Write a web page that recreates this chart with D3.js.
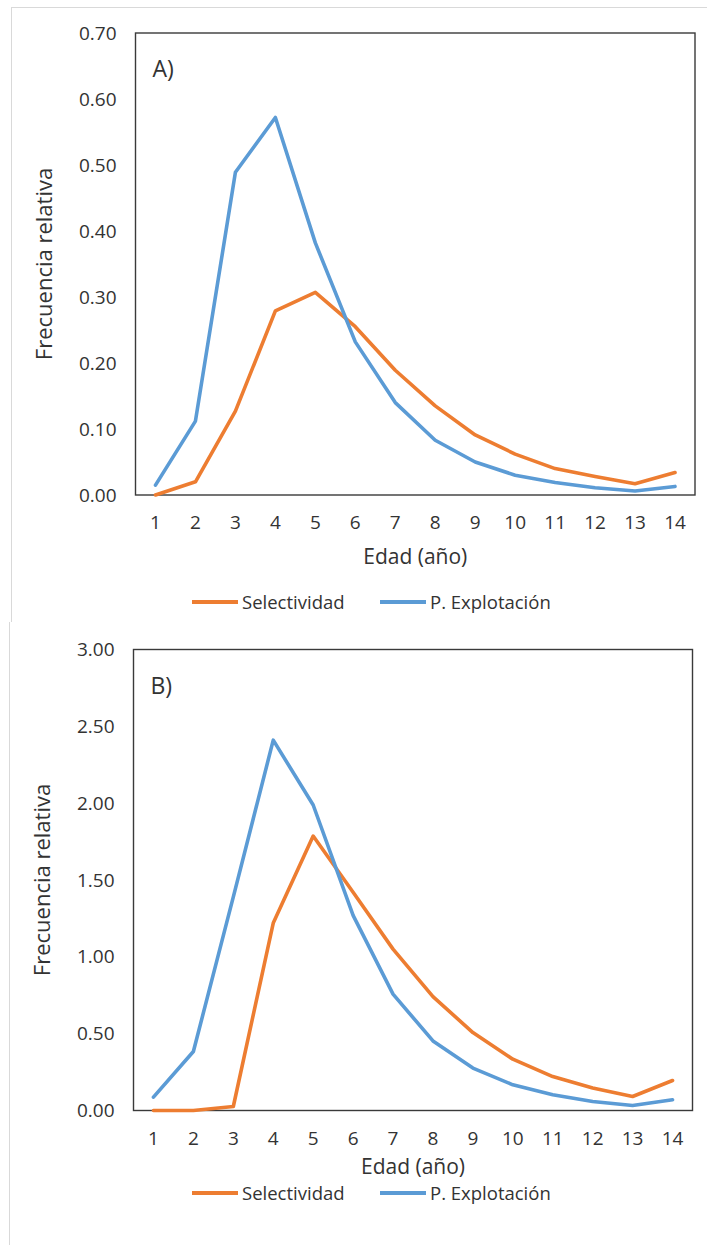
<!DOCTYPE html>
<html>
<head>
<meta charset="utf-8">
<script src="https://cdn.jsdelivr.net/npm/d3@7/dist/d3.min.js"></script>
<style>
  html, body { margin: 0; padding: 0; background: #fff; }
  svg { display: block; }
  text { font-family: "Open Sans", "DejaVu Sans", sans-serif; fill: #333; }
</style>
</head>
<body>
<svg id="chart" width="707" height="1245"></svg>
<script>
// ---- Data ----
const ages = ["1","2","3","4","5","6","7","8","9","10","11","12","13","14"];
const seriesNames = ["Selectividad", "P. Explotación"];
const seriesColors = ["#ED7D31", "#5B9BD5"];

// Panel A
const selA = [0.000, 0.020, 0.127, 0.279, 0.307, 0.255, 0.189, 0.135, 0.091, 0.062, 0.040, 0.028, 0.017, 0.034];
const expA = [0.015, 0.112, 0.489, 0.572, 0.382, 0.232, 0.140, 0.083, 0.050, 0.030, 0.019, 0.011, 0.006, 0.013];
const ticksA = [0, 0.1, 0.2, 0.3, 0.4, 0.5, 0.6, 0.7];

// Panel B
const selB = [0.000, 0.000, 0.026, 1.220, 1.786, 1.420, 1.050, 0.741, 0.507, 0.334, 0.221, 0.146, 0.091, 0.195];
const expB = [0.087, 0.384, 1.390, 2.410, 1.988, 1.270, 0.757, 0.453, 0.276, 0.167, 0.102, 0.059, 0.033, 0.070];
const ticksB = [0, 0.5, 1.0, 1.5, 2.0, 2.5, 3.0];

const panelLabels = ["A)", "B)"];
const xTitle = "Edad (año)";
const yTitle = "Frecuencia relativa";

const svg = d3.select("#chart");

// faint image-frame lines
svg.append("line").attr("x1", 12).attr("x2", 707).attr("y1", 7.5).attr("y2", 7.5)
  .attr("stroke", "#d9d9d9").attr("stroke-width", 1);
svg.append("line").attr("x1", 11.5).attr("x2", 11.5).attr("y1", 7).attr("y2", 622)
  .attr("stroke", "#d9d9d9").attr("stroke-width", 1);
svg.append("line").attr("x1", 9.5).attr("x2", 9.5).attr("y1", 622).attr("y2", 1245)
  .attr("stroke", "#d9d9d9").attr("stroke-width", 1);

const tickFont = "19px";

function panel(cfg) {
  const { left, right, top, bottom, ymax, ticks, sel, exp, label, legendY, titleOffset } = cfg;
  const g = svg.append("g");
  const x = d3.scaleBand().domain(ages).range([left, right]).padding(0);
  const y = d3.scaleLinear().domain([0, ymax]).range([bottom, top]);

  // Y axis labels
  const yAxis = d3.axisLeft(y).tickValues(ticks).tickFormat(d3.format(".2f")).tickSize(0).tickPadding(19);
  const ya = g.append("g").attr("transform", `translate(${left},0)`).call(yAxis);
  ya.select(".domain").remove();
  ya.selectAll("text").style("font-size", tickFont).style("font-family", "\"Open Sans\", sans-serif").attr("fill", "#333");

  // X axis labels
  const xAxis = d3.axisBottom(x).tickSize(0).tickPadding(21);
  const xa = g.append("g").attr("transform", `translate(0,${bottom})`).call(xAxis);
  xa.select(".domain").remove();
  xa.selectAll("text").style("font-size", tickFont).style("font-family", "\"Open Sans\", sans-serif").attr("fill", "#333");

  // Plot border
  g.append("rect").attr("x", left).attr("y", top).attr("width", right - left).attr("height", bottom - top)
    .attr("fill", "none").attr("stroke", "#3a3a3a").attr("stroke-width", 1.4);

  // Lines
  const line = d3.line().x((d, i) => x(ages[i]) + x.bandwidth() / 2).y(d => y(d));
  [sel, exp].forEach((s, k) => {
    g.append("path").datum(s).attr("d", line).attr("fill", "none")
      .attr("stroke", seriesColors[k]).attr("stroke-width", 3.6)
      .attr("stroke-linejoin", "round").attr("stroke-linecap", "round");
  });

  // Panel label
  g.append("text").attr("x", left + 17).attr("y", top + 44).text(label)
    .style("font-size", "23px");

  // Axis titles
  g.append("text").attr("x", (left + right) / 2).attr("y", bottom + titleOffset)
    .attr("text-anchor", "middle").style("font-size", "21px").text(xTitle);
  g.append("text").attr("transform", `translate(${left - 84},${(top + bottom) / 2}) rotate(-90)`)
    .attr("text-anchor", "middle").style("font-size", "22px").text(yTitle);

  // Legend
  const legX = [192, 380];
  seriesNames.forEach((n, k) => {
    g.append("line").attr("x1", legX[k]).attr("x2", legX[k] + 46)
      .attr("y1", legendY).attr("y2", legendY)
      .attr("stroke", seriesColors[k]).attr("stroke-width", 3.8);
    g.append("text").attr("x", legX[k] + 50).attr("y", legendY + 6.5)
      .style("font-size", "18.5px").text(n);
  });
}

panel({ left: 135.5, right: 695, top: 33, bottom: 495, ymax: 0.7, ticks: ticksA,
        sel: selA, exp: expA, label: panelLabels[0], legendY: 602, titleOffset: 69 });
panel({ left: 133.5, right: 692.5, top: 649.5, bottom: 1110.5, ymax: 3.0, ticks: ticksB,
        sel: selB, exp: expB, label: panelLabels[1], legendY: 1193, titleOffset: 63 });
</script>
</body>
</html>
